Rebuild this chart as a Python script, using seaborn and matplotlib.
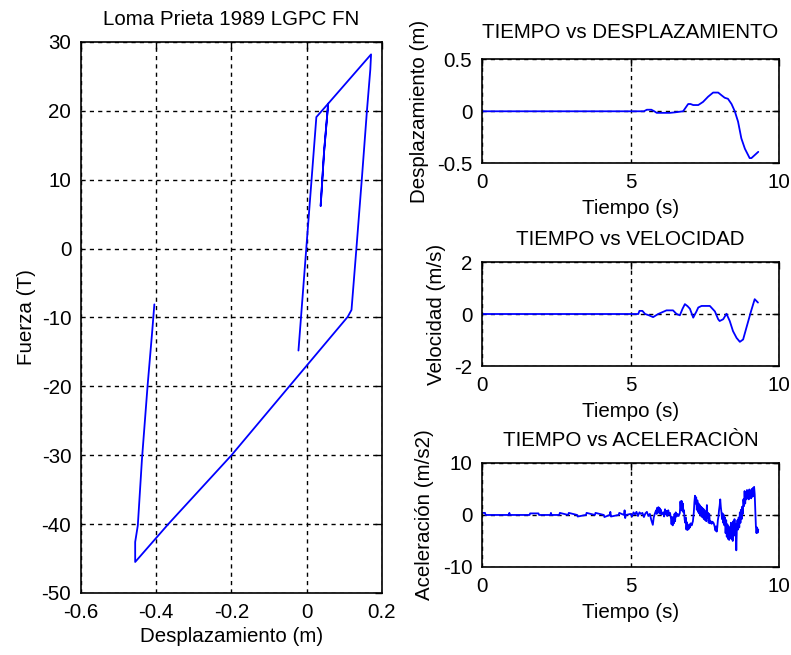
import numpy as np
import pandas as pd
import matplotlib
matplotlib.use("Agg")
import matplotlib.pyplot as plt
import seaborn as sns

# ---------------- data ----------------
hyst_disp = [-0.022, 0.0256, 0.057, 0.046, 0.037, 0.046, 0.057, 0.171, 0.169, 0.160, 0.147,
             0.132, 0.119, 0.109, -0.051, -0.200, -0.368, -0.456, -0.456, -0.449, -0.438,
             -0.423, -0.411, -0.405]
hyst_force = [-14.8, 19.1, 21.05, 14.0, 6.2, 14.0, 21.05, 28.2, 26.0, 20.0, 10.5,
              0.0, -8.9, -9.9, -20.3, -30.0, -40.0, -45.5, -42.6, -40.2, -30.6,
              -19.9, -12.2, -8.1]

t_disp = [0, 5.45, 5.55, 5.7, 5.8, 5.88, 6.33, 6.5, 6.77, 6.94, 7.02, 7.11, 7.28, 7.44,
          7.61, 7.78, 7.95, 8.08, 8.17, 8.28, 8.40, 8.51, 8.62, 8.73, 8.85, 9.01, 9.07, 9.30]
disp = [0, 0, 0.015, 0.015, 0, -0.015, -0.015, -0.01, 0, 0.07, 0.07, 0.06, 0.06, 0.09,
        0.14, 0.18, 0.18, 0.15, 0.13, 0.12, 0.07, 0.0, -0.10, -0.26, -0.36, -0.45, -0.45, -0.39]

t_vel = [0, 5.26, 5.30, 5.40, 5.49, 5.62, 5.76, 5.93, 6.21, 6.43, 6.55, 6.66, 6.75, 6.83,
         6.92, 7.0, 7.11, 7.22, 7.28, 7.39, 7.67, 7.84, 7.95, 8.0, 8.12, 8.23, 8.34, 8.45,
         8.57, 8.68, 8.79, 8.90, 9.06, 9.18, 9.29]
vel = [0, 0, 0.12, 0.12, 0, -0.05, -0.12, 0, 0.14, 0.14, 0, -0.05, 0.2, 0.38,
       0.3, 0.2, -0.14, 0.1, 0.25, 0.31, 0.31, 0.1, -0.2, -0.27, -0.2, 0.01, -0.27, -0.66,
       -0.92, -1.07, -0.98, -0.53, 0.12, 0.57, 0.44]

t_acc = [0.00, 0.10, 0.12, 0.30, 0.32, 0.90, 0.92, 0.94, 1.60, 1.62, 1.90, 1.92, 2.30, 2.32,
         2.34, 2.60, 2.62, 2.90, 2.92, 3.20, 3.22, 3.50, 3.52, 3.80, 3.82, 4.10, 4.12,
         4.30, 4.32, 4.34, 4.60, 4.62, 4.78, 4.80, 4.82, 4.84,
         5.00, 5.05, 5.10, 5.15, 5.20, 5.25, 5.30, 5.35, 5.40, 5.45, 5.50, 5.55, 5.60, 5.65,
         5.70, 5.75, 5.78, 5.82, 5.86, 5.88, 5.90, 5.92, 5.94, 5.96, 5.98, 6.00, 6.02, 6.05,
         6.10, 6.13, 6.16, 6.18, 6.21, 6.24, 6.27, 6.30, 6.33, 6.36, 6.38, 6.40, 6.42, 6.44,
         6.46, 6.48, 6.50, 6.52, 6.55, 6.58, 6.62, 6.66, 6.68, 6.70, 6.72, 6.74, 6.76, 6.78,
         6.80, 6.82, 6.84, 6.86, 6.88, 6.90, 6.92, 6.94, 6.96, 6.98, 7.00, 7.03, 7.06, 7.10,
         7.13, 7.15, 7.17, 7.19, 7.21, 7.23, 7.25, 7.27, 7.29, 7.31, 7.33, 7.35, 7.37, 7.39,
         7.41, 7.43, 7.45, 7.47, 7.49, 7.51, 7.53, 7.55, 7.57, 7.59, 7.61, 7.63, 7.65, 7.67,
         7.70, 7.73, 7.76, 7.80, 7.83, 7.86, 7.88, 7.90, 7.92, 7.94, 7.96, 7.98, 8.00, 8.02,
         8.04, 8.06, 8.08, 8.10, 8.12, 8.14, 8.16, 8.18, 8.20, 8.22, 8.24, 8.26, 8.28, 8.30,
         8.32, 8.34, 8.36, 8.38, 8.40, 8.42, 8.44, 8.46, 8.48, 8.50, 8.52, 8.54, 8.56, 8.58,
         8.60, 8.62, 8.64, 8.66, 8.68, 8.70, 8.72, 8.74, 8.76, 8.78, 8.80, 8.82, 8.84, 8.86,
         8.88, 8.90, 8.92, 8.94, 8.96, 8.98, 9.00, 9.02, 9.04, 9.06, 9.08, 9.10, 9.12, 9.14,
         9.16, 9.18, 9.20, 9.22, 9.24, 9.26, 9.28, 9.30]
acc = [0.4, 0.4, 0.0, 0.0, 0.0, 0.0, 0.4, 0.0, 0.0, 0.3, 0.3, 0.0, 0.0, 0.4,
       0.0, 0.0, 0.4, 0.0, 0.4, 0.0, -0.3, 0.0, 0.4, 0.0, 0.4, 0.0, -0.4,
       0.0, 0.6, -0.3, 0.0, 0.4, 0.0, 0.9, -0.6, 0.0,
       0.2, -0.3, 0.5, 0.1, 0.6, -0.2, 0.5, 0.2, 0.4, -0.4, 0.3, 0.6, -0.2, 0.2,
       -1.0, -1.9, -0.5, 0.3, 0.9, 0.2, 1.4, 0.4, 1.5, 0.5, 1.3, 0.2, 1.0, 0.1,
       0.5, -0.3, 1.1, 0.2, 0.8, -0.2, 0.9, 0.1, 0.4, -0.6, -1.8, -0.4, -2.0, -0.5,
       -1.6, 0.2, -1.2, 0.5, -0.3, 0.2, -0.2, 0.4, 2.6, 1.0, 2.7, 0.8, 2.2, 0.5,
       0.9, -0.8, -1.5, -0.5, -2.8, -1.4, -2.9, -2.2, -2.7, -1.8, -2.4, -1.6, -2.0, -1.2,
       0.5, 2.5, 3.7, 2.2, 3.4, 1.0, 2.8, 0.6, 2.2, 0.3, 1.9, 0.0, 1.6, -0.3,
       1.4, -0.5, 1.2, -0.8, 0.9, -1.0, 0.6, -1.2, 1.9, -0.6, 0.4, -1.5, 0.2, -1.6,
       -1.2, -1.7, -1.3, -1.6, -2.2, -3.0, -2.2, -3.2, -2.4, -1.0, -0.3, 1.0, 1.8, 3.0,
       1.5, 0.5, -0.8, 0.3, -1.5, 0.0, -2.0, -0.5, -3.5, -1.0, -4.2, -1.8, -4.6, -2.2,
       -4.8, -2.5, -4.4, -1.5, -4.6, -2.0, -5.0, -1.2, -4.0, -0.8, -3.2, -1.8, -6.8, -2.5,
       -1.0, -2.8, -0.5, -2.4, 0.5, -1.5, 1.0, -0.8, 1.6, 0.2, 3.0, 1.7, 4.6, 2.2,
       4.2, 3.0, 4.8, 3.3, 4.5, 3.0, 4.9, 3.4, 4.6, 3.2, 5.0, 3.5, 5.2, 3.6,
       5.4, 4.0, 1.0, -2.2, -3.5, -2.4, -3.4, -2.8]

main_title = "Loma Prieta 1989 LGPC FN"
main_xlabel = "Desplazamiento (m)"
main_ylabel = "Fuerza (T)"
main_xticks = [-0.6, -0.4, -0.2, 0, 0.2]
main_xticklabels = ["-0.6", "-0.4", "-0.2", "0", "0.2"]
main_yticks = [30, 20, 10, 0, -10, -20, -30, -40, -50]
main_yticklabels = ["30", "20", "10", "0", "-10", "-20", "-30", "-40", "-50"]

ts_titles = ["TIEMPO vs DESPLAZAMIENTO", "TIEMPO vs VELOCIDAD", "TIEMPO vs ACELERACIÒN"]
ts_ylabels = ["Desplazamiento (m)", "Velocidad (m/s)", "Aceleración (m/s2)"]
ts_xlabel = "Tiempo (s)"
ts_xticks = [0, 5, 10]
ts_xticklabels = ["0", "5", "10"]
ts_yticks = [[0.5, 0, -0.5], [2, 0, -2], [10, 0, -10]]
ts_yticklabels = [["0.5", "0", "-0.5"], ["2", "0", "-2"], ["10", "0", "-10"]]
ts_ylims = [(-0.5, 0.5), (-2, 2), (-10, 10)]

# ---------------- style ----------------
sns.set_style("white")
plt.rcParams['font.family'] = ['Liberation Sans', 'DejaVu Sans']
plt.rcParams['text.color'] = 'black'
plt.rcParams['axes.labelcolor'] = 'black'
plt.rcParams['xtick.color'] = 'black'
plt.rcParams['ytick.color'] = 'black'
FS = 14.8
LINE = "#0000ff"

fig = plt.figure(figsize=(7.91, 6.55), dpi=100)
fig.patch.set_facecolor("white")


def style_axes(ax):
    ax.set_facecolor("white")
    for s in ax.spines.values():
        s.set_visible(True)
        s.set_color("black")
        s.set_linewidth(1.2)
    ax.grid(True, color="black", linestyle=(0, (3, 3)), linewidth=1.0)
    ax.set_axisbelow(True)
    ax.tick_params(direction="in", length=5, width=1, top=True, right=True,
                   labelsize=FS, pad=7, colors="black")


# main hysteresis plot
ax0 = fig.add_axes([0.1024, 0.0947, 0.3805, 0.8412])
hdf = pd.DataFrame({"d": hyst_disp, "f": hyst_force})
sns.lineplot(data=hdf, x="d", y="f", sort=False, estimator=None, color=LINE,
             linewidth=1.3, ax=ax0)
ax0.set_xlim(-0.6, 0.2)
ax0.set_ylim(-50, 30)
ax0.set_xticks(main_xticks)
ax0.set_xticklabels(main_xticklabels)
ax0.set_yticks(main_yticks)
ax0.set_yticklabels(main_yticklabels)
style_axes(ax0)
ax0.set_title(main_title, fontsize=FS, pad=12, color="black")
ax0.set_xlabel(main_xlabel, fontsize=FS, labelpad=4)
ax0.set_ylabel(main_ylabel, fontsize=FS, labelpad=4)

# time series
bottoms = [0.7507, 0.4412, 0.1344]
title_pads = [15, 12, 12]
series = [(t_disp, disp), (t_vel, vel), (t_acc, acc)]
for i in range(3):
    ax = fig.add_axes([0.6094, bottoms[i], 0.3755, 0.1588])
    tt, yy = series[i]
    df = pd.DataFrame({"t": tt, "y": yy})
    sns.lineplot(data=df, x="t", y="y", sort=False, estimator=None, color=LINE,
                 linewidth=1.3, ax=ax)
    ax.set_xlim(0, 10)
    ax.set_ylim(*ts_ylims[i])
    ax.set_xticks(ts_xticks)
    ax.set_xticklabels(ts_xticklabels)
    ax.set_yticks(ts_yticks[i])
    ax.set_yticklabels(ts_yticklabels[i])
    style_axes(ax)
    ax.set_title(ts_titles[i], fontsize=FS, pad=title_pads[i], color="black")
    ax.set_xlabel(ts_xlabel, fontsize=FS, labelpad=5)
    ax.set_ylabel(ts_ylabels[i], fontsize=FS, labelpad=6)

fig.savefig("out.png", dpi=100, facecolor="white")
